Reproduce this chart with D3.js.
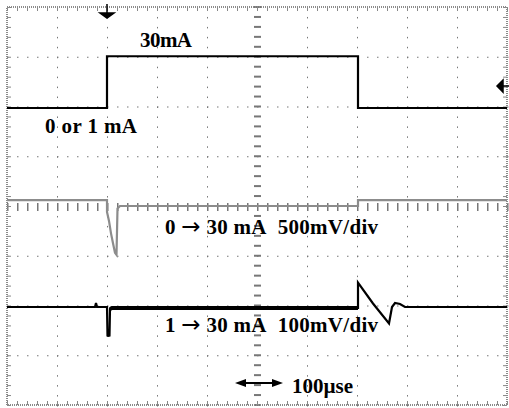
<!DOCTYPE html>
<html><head><meta charset="utf-8">
<script src="https://cdn.jsdelivr.net/npm/d3@7"></script>
<style>
html,body{margin:0;padding:0;background:#fff;}
svg{display:block;}
text{font-family:"Liberation Serif","Times New Roman",serif;font-weight:bold;}
</style></head>
<body>
<script>
// time axis: 10 divisions x 100 µs ; vertical: 8 divisions
const timeDomain = [0, 1000];
const divDomain = [0, 8];
const gridTimes = [100, 200, 300, 400, 600, 700, 800, 900];
const gridDivs = [1, 2, 3, 5, 6, 7];
const centerTime = 500, centerDiv = 4;

// trace 1: current step (divisions)
const currentT = [0, 200, 200, 702, 702, 1000];
const currentV = [5.97, 5.97, 7.01, 7.01, 5.97, 5.97];

// trace 2: 0 -> 30 mA, 500mV/div (gray)
const v500T = [0, 200, 200, 204, 208, 212, 216, 219, 221, 226, 702, 702, 1000];
const v500V = [4.12, 4.12, 3.88, 3.70, 3.45, 3.25, 3.06, 3.02, 3.95, 4.0, 4.0, 4.12, 4.12];

// trace 3: 1 -> 30 mA, 100mV/div (black)
const v100T = [0, 176, 178, 180, 200, 201, 205, 206, 210, 702, 702, 732, 764, 770, 776, 786, 796, 1000];
const v100V = [1.97, 1.97, 2.05, 1.97, 1.97, 1.40, 1.40, 1.93, 1.95, 1.95, 2.46, 2.04, 1.64, 1.97, 2.05, 2.03, 1.97, 1.97];

const triggerTime = 200, triggerLevel = 6.41;

// labels: text parts (arrow separate), anchor time/div, span in µs
const labels = [
  {parts: ["30mA"], t: 266, v: 7.2, span: 104},
  {parts: ["0 or 1 mA"], t: 76, v: 5.47, span: 184},
  {parts: ["0 ", "\u2192", " 30 mA\u00a0\u00a0500mV/div"], t: 316, v: 3.44, span: 426},
  {parts: ["1 ", "\u2192", " 30 mA\u00a0\u00a0100mV/div"], t: 316, v: 1.47, span: 426},
  {parts: ["100\u00b5se"], t: 570, v: 0.24, span: 122}
];
const scaleArrowT = [456, 552], scaleArrowV = 0.44;

const W = 509, H = 408;
const x = d3.scaleLinear().domain(timeDomain).range([7, 507]);
const y = d3.scaleLinear().domain(divDomain).range([405, 7]);

const svg = d3.select("body").append("svg").attr("width", W).attr("height", H);

// grid dots
const g = svg.append("g");
const minorT = d3.range(0, 1001, 20);
const minorV = d3.range(0, 8.001, 0.2);
gridTimes.forEach(t => {
  minorV.forEach(v => g.append("rect").attr("x", x(t)).attr("y", y(v)).attr("width", 1).attr("height", 1.5).attr("fill", "#777"));
});
gridDivs.forEach(v => {
  minorT.forEach(t => g.append("rect").attr("x", x(t)).attr("y", y(v)).attr("width", 1.5).attr("height", 1).attr("fill", "#777"));
});
// center axes ticks
minorV.forEach(v => g.append("rect").attr("x", x(centerTime) - 3).attr("y", y(v) - 1).attr("width", 7).attr("height", 2).attr("fill", "#777"));
minorT.forEach(t => g.append("rect").attr("x", x(t)).attr("y", y(centerDiv) - 3).attr("width", 1.5).attr("height", 8).attr("fill", "#777"));

// frame
svg.append("rect").attr("x", x(0)).attr("y", y(8)).attr("width", x(1000) - x(0)).attr("height", y(0) - y(8))
  .attr("fill", "none").attr("stroke", "#8a8a8a").attr("stroke-width", 2).attr("stroke-dasharray", "1,1");
minorT.forEach(t => {
  g.append("rect").attr("x", x(t)).attr("y", y(8)).attr("width", 1).attr("height", 4).attr("fill", "#888");
  g.append("rect").attr("x", x(t)).attr("y", y(0) - 4).attr("width", 1).attr("height", 4).attr("fill", "#888");
});
minorV.forEach(v => {
  g.append("rect").attr("x", x(0)).attr("y", y(v)).attr("width", 4).attr("height", 1).attr("fill", "#888");
  g.append("rect").attr("x", x(1000) - 4).attr("y", y(v)).attr("width", 4).attr("height", 1).attr("fill", "#888");
});

const line = d3.line().x(d => x(d[0])).y(d => y(d[1]));
const zip = (a, b) => a.map((t, i) => [t, b[i]]);

svg.append("path").attr("d", line(zip(v500T, v500V))).attr("fill", "none").attr("stroke", "#8c8c8c").attr("stroke-width", 2.2);
svg.append("path").attr("d", line(zip(currentT, currentV))).attr("fill", "none").attr("stroke", "#000").attr("stroke-width", 2.2);
const t3 = zip(v100T, v100V);
svg.append("path").attr("d", line(t3)).attr("fill", "none").attr("stroke", "#000").attr("stroke-width", 2.2);
svg.append("path").attr("d", line(t3.filter(d => d[0] >= 206 && d[0] <= 702 && d[1] < 2))).attr("fill", "none").attr("stroke", "#000").attr("stroke-width", 4);
svg.append("path").attr("d", line(t3.filter(d => d[0] >= 201 && d[0] <= 205))).attr("fill", "none").attr("stroke", "#000").attr("stroke-width", 3);

// trigger markers
const tx = x(triggerTime);
svg.append("path").attr("d", `M${tx},${y(8) - 3}V${y(8) + 6}M${tx - 7},${y(8) + 6}H${tx + 7}L${tx},${y(8) + 11}Z`)
  .attr("fill", "#000").attr("stroke", "#000").attr("stroke-width", 1.5);
const ly = y(triggerLevel);
svg.append("path").attr("d", `M${x(1000) - 10},${ly}L${x(1000) - 4},${ly - 6}V${ly + 6}Z M${x(1000) - 4},${ly}H${x(1000) + 2}`)
  .attr("fill", "#000").attr("stroke", "#000").attr("stroke-width", 1.5);

// labels
labels.forEach(l => {
  const te = svg.append("text").attr("x", x(l.t)).attr("y", y(l.v)).attr("font-size", 21).attr("fill", "#000")
    .attr("textLength", x(l.span) - x(0)).attr("lengthAdjust", "spacing");
  l.parts.forEach(p => {
    const ts = te.append("tspan").text(p);
    if (p === "\u2192") ts.attr("font-family", "DejaVu Sans").attr("font-weight", "normal").attr("font-size", 23);
  });
});

// scale arrow
const ax0 = x(scaleArrowT[0]), ax1 = x(scaleArrowT[1]), ay = y(scaleArrowV);
svg.append("line").attr("x1", ax0 + 6).attr("x2", ax1 - 6).attr("y1", ay).attr("y2", ay).attr("stroke", "#000").attr("stroke-width", 2);
svg.append("path").attr("d", `M${ax0},${ay}L${ax0 + 11},${ay - 4}V${ay + 4}Z M${ax1},${ay}L${ax1 - 11},${ay - 4}V${ay + 4}Z`).attr("fill", "#000");
</script>
</body></html>
